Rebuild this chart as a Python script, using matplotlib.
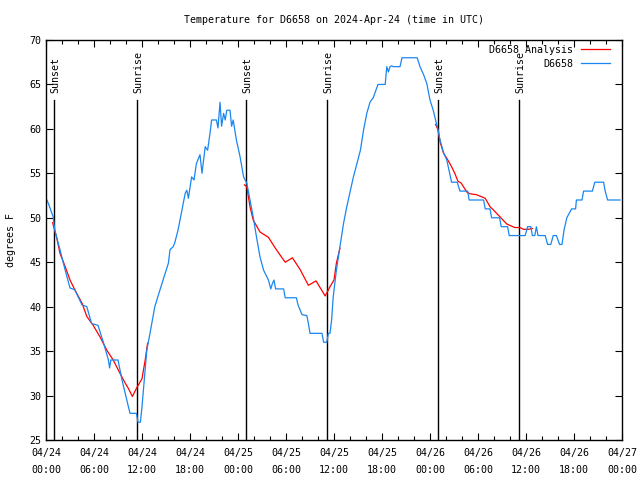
import matplotlib
matplotlib.use("Agg")
import matplotlib.pyplot as plt
from matplotlib.ticker import MultipleLocator

# hours since 04/24 00:00 UTC
obs_hours = [0, 0.3, 0.9, 1.1, 1.75, 2.4, 3.0, 3.6, 4.5, 5.1, 5.7, 6.5, 7.2, 7.8, 7.95, 8.1,
             9.0, 9.5, 10.3, 10.5, 11.3, 11.5, 11.8, 12.0, 12.25, 12.6, 13.0, 13.6, 14.25,
             14.9, 15.3, 15.5, 15.9, 16.1, 16.5, 17.0, 17.4, 17.6, 17.8, 18.2, 18.5, 18.8,
             19.25, 19.5, 19.9, 20.2, 20.5, 20.7, 21.3, 21.5, 21.75, 21.95, 22.2, 22.4, 22.6,
             23.0, 23.2, 23.4, 23.8, 24.25, 24.7, 25.1, 25.5, 25.9, 26.3, 26.75, 27.2, 27.8,
             28.1, 28.3, 28.5, 28.7, 29.0, 29.7, 29.9, 31.3, 31.5, 32.0, 32.6, 32.8, 33.0,
             34.5, 34.7, 35.1, 35.3, 35.5, 35.7, 35.9, 36.3, 36.75, 37.2, 37.6, 38.0, 38.4,
             38.8, 39.3, 39.7, 40.1, 40.5, 40.9, 41.1, 41.5, 42.4, 42.6, 42.8, 43.0, 43.2,
             43.4, 44.25, 44.5, 46.4, 46.75, 47.2, 47.6, 48.0, 48.4, 48.7, 49.0, 49.25, 49.7,
             50.1, 50.7, 51.4, 51.75, 52.7, 52.9, 54.7, 54.9, 55.5, 55.7, 56.7, 56.9, 57.7,
             57.9, 59.9, 60.2, 60.6, 60.8, 61.1, 61.3, 61.5, 62.4, 62.7, 63.1, 63.4, 63.8,
             64.2, 64.5, 64.75, 65.1, 65.7, 66.2, 66.3, 67.0, 67.2, 68.3, 68.6, 69.7, 69.9,
             70.2, 71.75]
obs_temps = [52.2, 51.6, 50.1, 48.6, 46.4, 44.1, 42.1, 41.9, 40.2, 40.0, 38.1, 37.9, 35.9, 34.0, 33.1, 34.0,
             34.0, 31.75, 28.75, 28.0, 28.0, 27.0, 27.0, 28.75, 31.4, 35.1, 37.0, 40.0, 41.9,
             43.75, 44.9, 46.4, 46.75, 47.2, 48.6, 50.9, 52.75, 53.1, 52.2, 54.6, 54.25, 56.1,
             57.1, 55.0, 58.0, 57.6, 59.5, 61.0, 61.0, 60.1, 63.0, 60.3, 61.75, 61.0, 62.1,
             62.1, 60.3, 61.0, 58.75, 56.9, 54.6, 53.9, 52.0, 50.1, 47.9, 45.6, 44.1, 43.0,
             42.0, 42.6, 43.0, 42.0, 42.0, 42.0, 41.0, 41.0, 40.2, 39.1, 39.0, 38.1, 37.0,
             37.0, 36.0, 36.0, 37.0, 37.0, 38.5, 41.1, 44.1, 46.8, 49.4, 51.25, 52.9, 54.5,
             55.9, 57.6, 59.9, 61.75, 63.0, 63.5, 64.0, 65.0, 65.0, 67.0, 66.4, 67.0, 67.1,
             67.0, 67.0, 68.0, 68.0, 67.0, 66.1, 65.1, 63.25, 62.1, 61.0, 59.9, 58.75, 57.3,
             56.5, 54.0, 54.0, 53.0, 53.0, 52.0, 52.0, 51.0, 51.0, 50.0, 50.0, 49.0, 49.0,
             48.0, 48.0, 49.0, 49.0, 48.0, 48.0, 49.0, 48.0, 48.0, 47.0, 47.0, 48.0, 48.0,
             47.0, 47.0, 48.6, 50.0, 51.0, 51.0, 52.0, 52.0, 53.0, 53.0, 54.0, 54.0, 53.0,
             52.0, 52.0]

# analysis segments (night periods)
ana_hours = [
    [0.83, 1.3, 1.75, 2.4, 3.0, 3.6, 4.5, 5.1, 5.9, 6.75, 7.6, 8.4, 9.25, 9.9, 10.3, 10.8,
     11.3, 12.0, 12.4, 12.7],
    [24.8, 25.1, 25.5, 25.9, 26.75, 27.8, 28.8, 29.9, 30.8, 31.75, 32.8, 33.75, 34.9, 35.5,
     36.0, 36.3, 36.75],
    [48.7, 49.0, 49.3, 49.7, 50.1, 50.7, 51.1, 51.5, 51.9, 52.6, 53.0, 53.8, 54.9, 55.5,
     55.9, 56.75, 57.6, 58.6, 59.25, 59.7, 60.3, 60.8],
]
ana_temps = [
    [49.45, 47.9, 46.0, 44.5, 43.0, 41.9, 40.4, 38.9, 37.9, 36.6, 35.1, 34.0, 32.5, 31.4, 30.8,
     29.9, 30.8, 31.9, 34.0, 35.9],
    [53.7, 53.5, 51.25, 49.75, 48.4, 47.8, 46.4, 45.0, 45.5, 44.2, 42.4, 42.9, 41.2, 42.25,
     43.0, 44.9, 46.6],
    [60.5, 59.9, 58.4, 57.25, 56.7, 55.75, 55.0, 54.1, 53.9, 52.9, 52.7, 52.6, 52.2, 51.25,
     50.9, 50.1, 49.3, 48.9, 48.9, 48.7, 48.7, 48.8],
]

sun_hours = [1.0, 11.4, 25.0, 35.1, 49.0, 59.1]
sun_labels = ["Sunset", "Sunrise", "Sunset", "Sunrise", "Sunset", "Sunrise"]

tick_hours = [0, 6, 12, 18, 24, 30, 36, 42, 48, 54, 60, 66, 72]
tick_labels = ["04/24\n00:00", "04/24\n06:00", "04/24\n12:00", "04/24\n18:00",
               "04/25\n00:00", "04/25\n06:00", "04/25\n12:00", "04/25\n18:00",
               "04/26\n00:00", "04/26\n06:00", "04/26\n12:00", "04/26\n18:00",
               "04/27\n00:00"]

plt.rcParams["font.family"] = "DejaVu Sans Mono"
plt.rcParams["font.size"] = 7.2

fig = plt.figure(figsize=(6.4, 4.8), dpi=100)
ax = fig.add_axes([46 / 640, 40 / 480, 576 / 640, 400 / 480])

for h, lab in zip(sun_hours, sun_labels):
    ax.plot([h, h], [25, 63.3], color="black", lw=1.0)
    ax.text(h + 0.2, 64.0, lab, rotation=90, ha="center", va="bottom")

for i, (hs, ts) in enumerate(zip(ana_hours, ana_temps)):
    ax.plot(hs, ts, color="#ff0000", lw=0.9, label="D6658 Analysis" if i == 0 else None)
ax.plot(obs_hours, obs_temps, color="#1a86f0", lw=0.9, label="D6658")

ax.set_xlim(0, 72)
ax.set_ylim(25, 70)
ax.set_xticks(tick_hours)
ax.set_xticklabels(tick_labels, linespacing=1.8)
ax.xaxis.set_minor_locator(MultipleLocator(2))
ax.yaxis.set_major_locator(MultipleLocator(5))
ax.tick_params(which="both", direction="in", top=True, right=True)
ax.tick_params(which="major", length=5, width=0.8)
ax.tick_params(which="minor", length=3, width=0.8)
ax.tick_params(axis="x", pad=6)
for s in ax.spines.values():
    s.set_linewidth(1.0)

ax.set_ylabel("degrees F")
ax.yaxis.set_label_coords(-0.052, 0.5)
ax.set_title("Temperature for D6658 on 2024-Apr-24 (time in UTC)", fontsize=7.2, pad=12)

leg = ax.legend(loc="upper right", bbox_to_anchor=(0.988, 1.0), frameon=False,
                markerfirst=False, handlelength=2.9, borderaxespad=0.1,
                labelspacing=0.4, handletextpad=0.8)
for t in leg.get_texts():
    t.set_ha("right")

fig.savefig("out.png", dpi=100)
